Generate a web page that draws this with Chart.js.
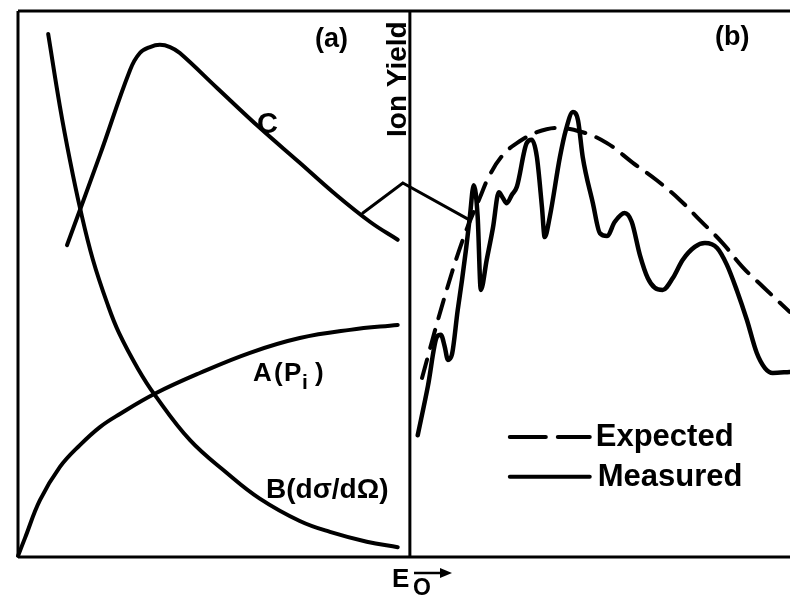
<!DOCTYPE html>
<html>
<head>
<meta charset="utf-8">
<script src="https://cdn.jsdelivr.net/npm/chart.js@4.4.1/dist/chart.umd.min.js"></script>
<style>
  body { margin: 0; background: #fff; }
  canvas { display: block; }
</style>
</head>
<body>
<canvas id="out" width="790" height="598"></canvas>
<script>
// axis ranges (arbitrary units, panel (a) is 0..10, panel (b) 10..xMax)
const xMax = 19.7;
const yMax = 10;
const panelSplit = 10;

// panel (a)
const curveAx = [0, 0.18, 0.56, 1.07, 1.58, 2.09, 2.60, 3.49, 4.64, 5.92, 7.19, 8.47, 9.69];
const curveAy = [0.02, 0.35, 1.04, 1.65, 2.05, 2.38, 2.62, 2.99, 3.37, 3.74, 4.01, 4.16, 4.25];

const curveBx = [0.77, 1.07, 1.33, 1.58, 1.91, 2.30, 2.58, 3.06, 3.49, 4.39, 5.33, 6.17, 7.19, 7.96, 8.90, 9.69];
const curveBy = [9.58, 8.25, 7.25, 6.40, 5.45, 4.60, 4.10, 3.45, 2.97, 2.14, 1.54, 1.07, 0.66, 0.46, 0.28, 0.18];

const curveCx = [1.25, 2.09, 2.86, 3.11, 3.37, 3.62, 3.88, 4.13, 5.08, 6.17, 7.19, 8.04, 8.98, 9.69];
const curveCy = [5.71, 7.36, 8.92, 9.23, 9.34, 9.38, 9.34, 9.23, 8.59, 7.86, 7.22, 6.68, 6.14, 5.81];

// link between C and the (b) panel
const linkX = [8.80, 9.82, 11.53];
const linkY = [6.30, 6.85, 6.17];

// panel (b)
const expectedX = [10.31, 10.84, 11.35, 11.79, 12.04, 12.37, 12.73, 13.24, 13.75, 14.41, 15.03, 15.69, 16.30, 16.89, 17.40, 17.98, 18.49, 19.01, 19.69];
const expectedY = [3.28, 4.65, 5.81, 6.59, 7.00, 7.36, 7.58, 7.78, 7.86, 7.78, 7.58, 7.22, 6.90, 6.54, 6.17, 5.75, 5.31, 4.95, 4.49];

const measuredX = [10.20, 10.46, 10.69, 10.79, 10.89, 10.97, 11.07, 11.22, 11.33, 11.43, 11.53, 11.63, 11.73, 11.81,
  11.96, 12.12, 12.27, 12.37, 12.47, 12.60, 12.73, 12.98, 13.11, 13.24, 13.37, 13.44, 13.57, 13.83, 13.98, 14.16,
  14.29, 14.41, 14.67, 14.85, 15.03, 15.23, 15.48, 15.66, 15.87, 16.07, 16.25, 16.45, 16.71, 16.96, 17.27, 17.53,
  17.84, 18.09, 18.34, 18.60, 18.85, 19.06, 19.26, 19.69];
const measuredY = [2.23, 3.13, 4.03, 4.07, 3.85, 3.61, 3.70, 4.52, 5.07, 5.62, 6.23, 6.81, 6.23, 4.89,
  5.44, 6.03, 6.68, 6.58, 6.48, 6.63, 6.78, 7.58, 7.64, 7.33, 6.41, 5.86, 6.23, 7.33, 7.82, 8.15,
  8.00, 7.33, 6.48, 5.93, 5.88, 6.14, 6.30, 6.14, 5.53, 5.11, 4.93, 4.89, 5.11, 5.44, 5.68, 5.75,
  5.66, 5.35, 4.89, 4.34, 3.74, 3.46, 3.37, 3.39];

const seriesNames = ["Expected", "Measured"];

function pts(xs, ys) {
  return xs.map((x, i) => ({ x: x, y: ys[i] }));
}

const FONT = "'Liberation Sans', Arial, sans-serif";

function line(ctx, x1, y1, x2, y2) {
  ctx.beginPath();
  ctx.moveTo(x1, y1);
  ctx.lineTo(x2, y2);
  ctx.stroke();
}

const framePlugin = {
  id: "frame",
  beforeDraw(chart) {
    const ctx = chart.ctx;
    ctx.save();
    ctx.fillStyle = "#fff";
    ctx.fillRect(0, 0, chart.width, chart.height);
    ctx.restore();
  },
  beforeDatasetsDraw(chart) {
    const ctx = chart.ctx;
    const a = chart.chartArea;
    const xs = chart.scales.x;
    const mid = xs.getPixelForValue(panelSplit);
    ctx.save();
    ctx.strokeStyle = "#000";
    ctx.lineWidth = 3;
    line(ctx, a.left, a.top, a.right, a.top);
    line(ctx, a.left, a.bottom, a.right, a.bottom);
    line(ctx, a.left, a.top, a.left, a.bottom);
    line(ctx, mid, a.top, mid, a.bottom);
    ctx.restore();
  },
  afterDatasetsDraw(chart) {
    const ctx = chart.ctx;
    const xs = chart.scales.x;
    const ys = chart.scales.y;
    const mid = xs.getPixelForValue(panelSplit);
    ctx.save();
    ctx.fillStyle = "#000";
    ctx.textBaseline = "alphabetic";
    ctx.textAlign = "left";

    ctx.font = "bold 27px " + FONT;
    ctx.fillText("(a)", 315, 47);
    ctx.fillText("(b)", 715, 45);

    ctx.font = "bold 29px " + FONT;
    ctx.fillText("C", 257, 133);

    // A(P_i), glyphs spaced like the original lettering
    ctx.font = "bold 26px " + FONT;
    ctx.fillText("A", 253, 381);
    ctx.fillText("(", 274, 381);
    ctx.fillText("P", 284, 381);
    ctx.font = "bold 21px " + FONT;
    ctx.fillText("i", 302, 389);
    ctx.font = "bold 26px " + FONT;
    ctx.fillText(")", 315, 381);

    ctx.font = "bold 28px " + FONT;
    ctx.fillText("B(d\u03c3/d\u03a9)", 266, 498);

    // y axis title
    ctx.save();
    ctx.translate(mid - 4, 137);
    ctx.rotate(-Math.PI / 2);
    ctx.font = "bold 28px " + FONT;
    ctx.fillText("Ion Yield", 0, 0);
    ctx.restore();

    // x axis title E_O ->
    ctx.font = "bold 26px " + FONT;
    ctx.fillText("E", 392, 587);
    ctx.font = "bold 23px " + FONT;
    ctx.fillText("O", 413, 595);
    ctx.lineWidth = 2.5;
    ctx.strokeStyle = "#000";
    line(ctx, 414, 573, 442, 573);
    ctx.beginPath();
    ctx.moveTo(452, 573);
    ctx.lineTo(440, 568);
    ctx.lineTo(440, 578);
    ctx.closePath();
    ctx.fill();

    // legend
    const lx1 = xs.getPixelForValue(12.55);
    const lx2 = xs.getPixelForValue(14.59);
    const yExp = ys.getPixelForValue(2.20);
    const yMeas = ys.getPixelForValue(1.47);
    ctx.lineWidth = 4;
    ctx.lineCap = "round";
    line(ctx, lx1, yExp, lx1 + 36, yExp);
    line(ctx, lx1 + 48, yExp, lx2, yExp);
    line(ctx, lx1, yMeas, lx2, yMeas);
    ctx.font = "bold 31px " + FONT;
    ctx.textBaseline = "middle";
    ctx.fillText(seriesNames[0], lx2 + 6, yExp + 1);
    ctx.fillText(seriesNames[1], lx2 + 8, yMeas + 1);
    ctx.restore();
  }
};

const common = {
  borderColor: "#000",
  backgroundColor: "#000",
  pointRadius: 0,
  fill: false,
  clip: false,
  borderCapStyle: "round",
  borderJoinStyle: "round"
};

const chartConfig = {
  type: "line",
  data: {
    datasets: [
      Object.assign({ label: "A(Pi)", data: pts(curveAx, curveAy), borderWidth: 4, tension: 0.4 }, common),
      Object.assign({ label: "B(d\u03c3/d\u03a9)", data: pts(curveBx, curveBy), borderWidth: 4, tension: 0.4 }, common),
      Object.assign({ label: "C", data: pts(curveCx, curveCy), borderWidth: 4, tension: 0.4 }, common),
      Object.assign({ label: "link", data: pts(linkX, linkY), borderWidth: 3, tension: 0 }, common, { borderJoinStyle: "miter" }),
      Object.assign({ label: seriesNames[0], data: pts(expectedX, expectedY), borderWidth: 4, tension: 0.4 }, common, { borderDash: [19, 12] }),
      Object.assign({ label: seriesNames[1], data: pts(measuredX, measuredY), borderWidth: 4.5, cubicInterpolationMode: "monotone" }, common)
    ]
  },
  options: {
    responsive: false,
    devicePixelRatio: 1,
    animation: false,
    layout: { padding: { left: 18, top: 11, right: 0, bottom: 41 } },
    scales: {
      x: { type: "linear", min: 0, max: xMax, display: false },
      y: { type: "linear", min: 0, max: yMax, display: false }
    },
    plugins: {
      legend: { display: false },
      tooltip: { enabled: false }
    }
  },
  plugins: [framePlugin]
};

window.chart = new Chart(document.getElementById("out").getContext("2d"), chartConfig);
</script>
</body>
</html>
